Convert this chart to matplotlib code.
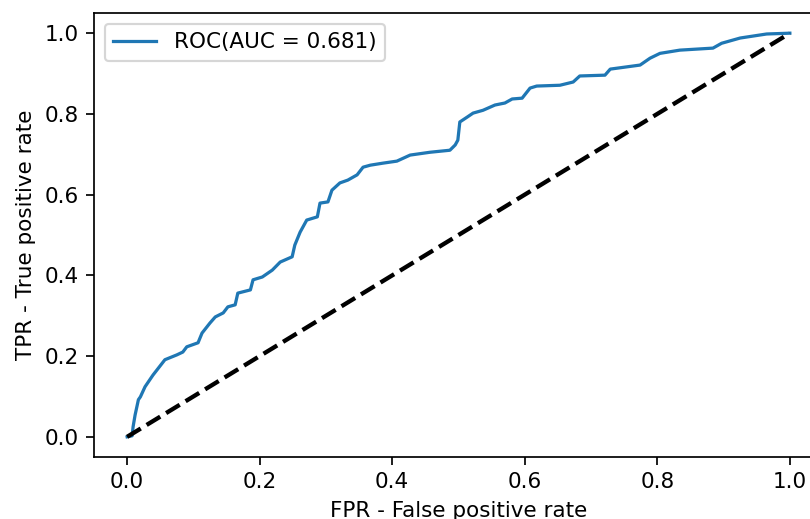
import matplotlib
matplotlib.use('Agg')
import matplotlib.pyplot as plt


fpr = [0.0, 0.0075, 0.009, 0.012, 0.017, 0.020, 0.027, 0.039, 0.057, 0.075,
       0.084, 0.090, 0.107, 0.113, 0.125, 0.133, 0.145, 0.152, 0.163, 0.167,
       0.186, 0.190, 0.204, 0.219, 0.231, 0.249, 0.253, 0.261, 0.271, 0.287,
       0.291, 0.303, 0.309, 0.321, 0.333, 0.347, 0.356, 0.367, 0.386, 0.407,
       0.427, 0.457, 0.487, 0.495, 0.499, 0.502, 0.513, 0.522, 0.537, 0.555,
       0.570, 0.581, 0.596, 0.608, 0.618, 0.653, 0.673, 0.683, 0.721, 0.729,
       0.774, 0.789, 0.804, 0.834, 0.884, 0.897, 0.925, 0.965, 1.0]
tpr = [0.0, 0.0025, 0.025, 0.054, 0.092, 0.099, 0.124, 0.153, 0.191, 0.203,
       0.210, 0.223, 0.233, 0.257, 0.282, 0.297, 0.307, 0.322, 0.327, 0.356,
       0.364, 0.389, 0.396, 0.413, 0.433, 0.446, 0.475, 0.507, 0.537, 0.545,
       0.579, 0.582, 0.611, 0.629, 0.636, 0.649, 0.668, 0.673, 0.678, 0.683,
       0.698, 0.705, 0.710, 0.723, 0.735, 0.780, 0.792, 0.802, 0.809, 0.822,
       0.827, 0.837, 0.839, 0.864, 0.869, 0.871, 0.879, 0.894, 0.896, 0.911,
       0.921, 0.938, 0.950, 0.958, 0.963, 0.975, 0.988, 0.998, 1.0]
auc = 0.681

fig = plt.figure(figsize=(810 / 155, 519 / 155), dpi=155)
ax = fig.add_axes([94 / 810, 62 / 519, (823 - 94) / 810, (457 - 13) / 519])

ax.plot(fpr, tpr, label='ROC(AUC = %.3f)' % auc)
ax.plot([0, 1], [0, 1], 'k--', lw=2)
ax.set_xlabel('FPR - False positive rate')
ax.set_ylabel('TPR - True positive rate')
ax.legend(loc='upper left')

fig.savefig('out.png', dpi=155)
